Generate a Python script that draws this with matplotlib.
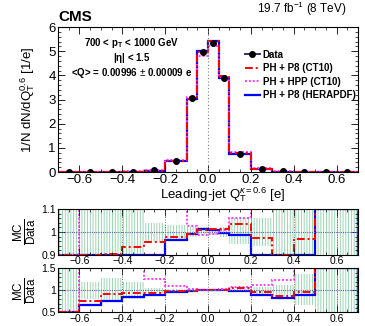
import numpy as np
import matplotlib
matplotlib.use("Agg")
import matplotlib.pyplot as plt
from matplotlib.lines import Line2D
from matplotlib.ticker import MultipleLocator

plt.rcParams['font.family'] = ['Liberation Sans', 'DejaVu Sans']
plt.rcParams['mathtext.fontset'] = 'custom'
plt.rcParams['mathtext.rm'] = 'Liberation Sans'
plt.rcParams['mathtext.it'] = 'Liberation Sans:italic'
plt.rcParams['mathtext.bf'] = 'Liberation Sans:bold'
plt.rcParams['hatch.linewidth'] = 0.6

# bin edges of the leading-jet charge
edges = [-0.7, -0.6, -0.5, -0.4, -0.3, -0.2, -0.1, -0.05, 0.0, 0.05, 0.1, 0.2, 0.3, 0.4, 0.5, 0.6, 0.7]

# main panel (normalised distribution)
data = [0.005, 0.006, 0.01, 0.02, 0.07, 0.48, 3.05, 4.95, 5.36, 3.90, 0.77, 0.14, 0.03, 0.01, 0.005, 0.004]
ph_p8_ct10 = [0.004, 0.005, 0.009, 0.019, 0.067, 0.47, 3.02, 4.97, 5.42, 3.97, 0.80, 0.135, 0.025, 0.010, 0.007, 0.006]
ph_hpp_ct10 = [0.003, 0.009, 0.015, 0.03, 0.09, 0.52, 3.10, 4.82, 5.22, 3.92, 0.82, 0.16, 0.04, 0.015, 0.008, 0.006]
ph_p8_hera = [0.003, 0.004, 0.008, 0.017, 0.062, 0.465, 3.02, 5.01, 5.43, 3.90, 0.76, 0.12, 0.024, 0.009, 0.007, 0.006]

# upper ratio panel (MC/Data)
r1_red = [0.85, 0.89, 0.905, 0.936, 0.958, 0.98, 0.99, 1.007, 1.011, 1.012, 1.036, 0.973, 0.85, 0.97, 2.0, 2.0]
r1_mag = [0.80, 2.0, 2.0, 2.0, 2.0, 2.0, 1.025, 0.987, 0.99, 1.01, 1.062, 2.0, 2.0, 2.0, 2.0, 2.0]
r1_blue = [0.80, 0.80, 0.80, 0.80, 0.80, 0.967, 0.99, 1.015, 1.007, 0.996, 0.987, 0.80, 0.80, 0.80, 2.0, 2.0]
r1_band_lo = [0.0, 0.0, 0.0, 0.0, 0.96, 0.97, 0.98, 0.985, 0.985, 0.98, 0.948, 0.94, 0.0, 0.0, 0.0, 0.0]
r1_band_hi = [3.0, 3.0, 3.0, 3.0, 1.04, 1.03, 1.02, 1.02, 1.015, 1.02, 1.062, 1.06, 3.0, 3.0, 3.0, 3.0]

# lower ratio panel (MC/Data)
r2_red = [0.45, 0.75, 0.91, 0.93, 0.95, 0.98, 0.995, 1.0, 1.005, 1.01, 1.06, 0.96, 0.86, 0.96, 2.0, 2.0]
r2_mag = [0.45, 2.0, 2.0, 2.0, 1.26, 1.10, 1.02, 1.0, 1.0, 1.02, 1.08, 1.11, 1.24, 2.0, 2.0, 2.0]
r2_blue = [0.45, 0.66, 0.75, 0.855, 0.90, 0.96, 0.99, 1.0, 1.01, 1.0, 0.985, 0.90, 0.83, 0.90, 2.0, 2.0]
r2_band_lo = [0.0, 0.80, 0.74, 0.80, 0.95, 0.97, 0.98, 0.98, 0.98, 0.98, 0.97, 0.92, 0.88, 0.66, 0.0, 0.0]
r2_band_hi = [3.0, 1.20, 1.27, 1.20, 1.06, 1.03, 1.02, 1.02, 1.02, 1.02, 1.03, 1.08, 1.12, 1.36, 3.0, 3.0]

RED = "#ff0000"
MAG = "#ff40ff"
BLUE = "#0000ff"
GREEN = "#8ccfa6"
DASHDOT = (0, (4, 1.5, 1, 1.5))

edges = np.array(edges)
centers = 0.5 * (edges[1:] + edges[:-1])
widths = np.diff(edges)

fig = plt.figure(figsize=(3.65, 3.26), dpi=100)
ax = fig.add_axes([0.159, 0.472, 0.822, 0.445])
ax1 = fig.add_axes([0.159, 0.218, 0.822, 0.141])
ax2 = fig.add_axes([0.159, 0.042, 0.822, 0.135])


def style_axis(a, ymaj, ymin, labsize):
    a.set_xlim(-0.7, 0.7)
    a.xaxis.set_major_locator(MultipleLocator(0.2))
    a.xaxis.set_minor_locator(MultipleLocator(0.05))
    a.yaxis.set_major_locator(MultipleLocator(ymaj))
    a.yaxis.set_minor_locator(MultipleLocator(ymin))
    a.tick_params(which="both", direction="in", top=True, right=True, labelsize=labsize, pad=1.5)
    a.tick_params(which="major", length=5, width=0.6)
    a.tick_params(which="minor", length=2.5, width=0.5)
    for s in a.spines.values():
        s.set_linewidth(0.8)


# ---- main panel
ax.axvline(0, color="0.5", ls=(0, (1, 2)), lw=0.8)
ax.stairs(ph_p8_hera, edges, color=BLUE, lw=1.6)
ax.stairs(ph_hpp_ct10, edges, color=MAG, lw=1.4, ls=(0, (1, 1)))
ax.stairs(ph_p8_ct10, edges, color=RED, lw=1.4, ls=DASHDOT)
ax.plot(centers, data, "o", color="black", ms=4, zorder=5)
ax.set_ylim(0, 6)
style_axis(ax, 1, 0.2, 9.5)
ax.set_ylabel(r"1/N dN/dQ$_\mathrm{T}^{0.6}$ [1/e]", fontsize=9.5, labelpad=8)
ax.set_xlabel(r"Leading-jet Q$_\mathrm{T}^{\kappa=0.6}$ [e]", fontsize=9.5, labelpad=1)
ax.xaxis.set_label_coords(0.55, -0.09)

ax.text(0.245, 0.87, r"700 < $\mathbf{p_T}$ < 1000 GeV", transform=ax.transAxes, ha="center",
        fontsize=7, fontweight="bold")
ax.text(0.245, 0.765, r"|$\mathbf{\eta}$| < 1.5", transform=ax.transAxes, ha="center",
        fontsize=7, fontweight="bold")
ax.text(0.245, 0.66, r"<Q> = 0.00996 $\pm$ 0.00009 e", transform=ax.transAxes, ha="center",
        fontsize=7, fontweight="bold")

handles = [
    Line2D([], [], color="#333366", lw=1.4, marker="o", ms=4, mfc="black", mec="black"),
    Line2D([], [], color=RED, lw=1.4, ls=DASHDOT),
    Line2D([], [], color=MAG, lw=1.4, ls=(0, (1, 1))),
    Line2D([], [], color=BLUE, lw=1.6),
]
labels = ["Data", "PH + P8 (CT10)", "PH + HPP (CT10)", "PH + P8 (HERAPDF)"]
leg = ax.legend(handles, labels, loc="upper left", bbox_to_anchor=(0.62, 0.85), frameon=False,
                prop={"size": 7, "weight": "bold"}, handlelength=1.5, handletextpad=0.3,
                labelspacing=0.35, borderpad=0.1, borderaxespad=0)

fig.text(0.159, 0.925, "CMS", fontsize=11, fontweight="bold", ha="left", va="bottom")
fig.text(0.95, 0.945, r"19.7 fb$^{-1}$ (8 TeV)", fontsize=8.5, ha="right", va="bottom")

# ---- ratio panels
panels = [
    (ax1, r1_red, r1_mag, r1_blue, r1_band_lo, r1_band_hi, (0.9, 1.1), 0.1, 0.02),
    (ax2, r2_red, r2_mag, r2_blue, r2_band_lo, r2_band_hi, (0.5, 1.5), 0.5, 0.1),
]
for a, rr, rm, rb, blo, bhi, ylim, ymaj, ymin in panels:
    lo, hi = ylim
    blo = np.clip(blo, lo, hi)
    bhi = np.clip(bhi, lo, hi)
    a.bar(edges[:-1], bhi - blo, bottom=blo, width=widths, align="edge", fill=False,
          hatch="||||||", edgecolor=GREEN, lw=0)
    for xg in [-0.6, -0.4, -0.2, 0.0, 0.2, 0.4, 0.6]:
        a.axvline(xg, color="0.3", ls=(0, (1, 2)), lw=0.6)
    a.axhline(1.0, color="#5566aa", ls=(0, (1, 1)), lw=0.8)
    a.stairs(np.clip(rb, lo, hi), edges, color=BLUE, lw=1.6)
    a.stairs(np.clip(rm, lo, hi), edges, color=MAG, lw=1.4, ls=(0, (1, 1)))
    a.stairs(np.clip(rr, lo, hi), edges, color=RED, lw=1.4, ls=DASHDOT)
    a.set_ylim(lo, hi)
    style_axis(a, ymaj, ymin, 7.5)
    a.tick_params(axis="x", pad=1)
    a.set_yticks([lo, 1.0, hi])
    a.set_yticklabels([f"{lo:g}", "1", f"{hi:g}"])
    a.set_ylabel(r"$\frac{\mathrm{MC}}{\mathrm{Data}}$", fontsize=12, labelpad=2)

fig.savefig("out.png", dpi=100)
